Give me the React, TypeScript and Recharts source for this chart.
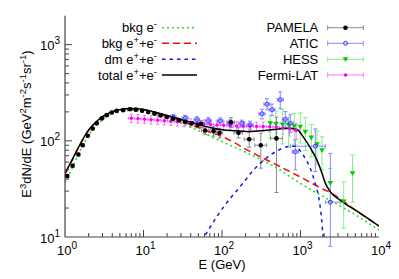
import React from 'react';
import { ComposedChart, Line, Scatter, XAxis, YAxis, ErrorBar } from 'recharts';

// ---------- axes ----------
const xMajorTicks = [1, 10, 100, 1000, 10000];
const yMajorTicks = [10, 100, 1000];
const minorSteps = [2, 3, 4, 5, 6, 7, 8, 9];
const xDomain = [1, 10000];
const yDomain = [10, 2000];

// ---------- model curves ----------
const bkgElE = [1, 1.25, 1.5, 2, 2.5, 3, 4, 5, 7, 10, 15, 20, 30, 50, 100, 200, 500, 1000, 2000, 5000, 10000];
const bkgElF = [37, 53, 74, 114, 144, 165, 191, 202, 208, 202, 186, 171, 152, 128, 98, 76, 52, 36, 26, 17, 11.8];

const bkgAllE = [1, 1.25, 1.5, 2, 2.5, 3, 4, 5, 7, 10, 15, 20, 30, 50, 70, 100, 150, 200, 300, 500, 1000, 2000, 2500, 5000, 10000];
const bkgAllF = [45, 64, 86, 128, 157, 177, 200, 210, 216, 210, 194, 180, 161, 137, 123, 111, 94, 82, 69, 56, 42, 31, 28.5, 19, 13];

const dmE = [55, 86, 127, 163, 198, 241, 307, 400, 526, 673, 850, 1045, 1200, 1334, 1540, 1700, 1843, 1960];
const dmF = [9, 16.3, 25.2, 32, 39, 47.6, 58.2, 70, 80, 87, 88, 74, 62, 51.6, 36, 26.2, 16.3, 9];

const totalE = [1, 1.25, 1.5, 2, 2.5, 3, 4, 5, 7, 10, 15, 20, 30, 50, 70, 100, 150, 200, 300, 500, 700, 900, 1100, 1330, 1620, 1880, 2070, 2400, 3200, 5800, 10000];
const totalF = [46, 65, 87, 130, 158, 178, 201, 211, 217, 212, 196, 184, 167, 148, 138, 130, 127, 125, 127, 132, 135, 131, 108, 85, 63, 46, 36.3, 29.5, 24.2, 17.6, 13];

// ---------- PAMELA ----------
const pamE = [1.07, 1.25, 1.48, 1.68, 1.95, 2.25, 2.54, 2.94, 3.4, 3.94, 4.56, 5.5, 6.7, 8.0, 9.6, 11.5, 13.8, 16.5, 19.8, 23.7, 28.4, 34, 41, 49, 54, 61, 78, 93, 130, 162, 222, 312, 494];
const pamF = [43, 55, 72, 90, 113, 134, 152, 171, 185, 197, 205, 208, 213, 211, 206, 199, 192, 184, 177, 170, 164, 158, 152, 146, 150, 128, 126, 121, 156, 121, 104, 90, 106];
const pamLo = [1.5, 2, 2.5, 3, 3.5, 4, 4.5, 5, 5.5, 6, 6, 6, 6, 6, 6, 6, 6, 6, 6, 6, 6, 6, 7, 8, 12, 12, 14, 14, 18, 14, 18, 38, 77];
const pamHi = [1.5, 2, 2.5, 3, 3.5, 4, 4.5, 5, 5.5, 6, 6, 6, 6, 6, 6, 6, 6, 6, 6, 6, 6, 6, 7, 8, 12, 12, 14, 14, 18, 16, 20, 30, 70];
const pamXLo = [0, 0, 0, 0, 0, 0, 0, 0, 0, 0, 0, 0, 0, 0, 0, 0, 0, 0, 0, 0, 0, 0, 0, 0, 5, 6, 8, 9, 14, 20, 30, 50, 80];
const pamXHi = [0, 0, 0, 0, 0, 0, 0, 0, 0, 0, 0, 0, 0, 0, 0, 0, 0, 0, 0, 0, 0, 0, 0, 0, 5, 6, 8, 9, 14, 20, 35, 59, 95];

// ---------- ATIC ----------
const atE = [24, 34, 48, 67, 95, 127, 179, 228, 323, 374, 433, 552, 640, 741, 859, 1545, 2400];
const atF = [176, 172, 166, 162, 161, 153, 152, 146, 191, 240, 211, 268, 167, 152, 77, 88, 23];
const atLo = [12, 12, 12, 12, 12, 12, 12, 14, 22, 30, 28, 51, 30, 30, 27, 40, 15];
const atHi = [12, 12, 12, 12, 12, 12, 12, 14, 22, 35, 30, 55, 35, 35, 25, 45, 51];
const atXLo = [2, 3, 4, 6, 8, 11, 16, 20, 28, 32, 37, 48, 55, 64, 75, 805, 330];
const atXHi = [2, 3, 4, 6, 8, 11, 16, 20, 30, 35, 40, 52, 60, 70, 80, 525, 820];

// ---------- HESS ----------
const hessE = [412, 487, 591, 705, 833, 994, 1152, 1373, 1622, 1880, 2400, 3550, 4600];
const hessF = [152, 150, 148, 146, 142, 140, 124, 108, 92, 80, 36.5, 23.4, 46];
const hessLo = [45, 45, 55, 60, 50, 45, 45, 40, 35, 30, 13, 11, 23];
const hessHi = [30, 55, 65, 30, 50, 55, 50, 40, 35, 30, 15, 14, 25];

// ---------- Fermi-LAT ----------
const fermiE = [7.0, 8.5, 10.3, 12.5, 15.2, 18.4, 22.3, 27.1, 32.9, 39.9, 48.4, 58.7, 71.2, 86.4, 105, 127, 154, 187, 227, 276, 334, 406, 492, 597, 724, 879];
const fermiF = [172, 170, 168, 166, 164, 162, 160, 158, 156, 154, 152, 150, 148, 146, 145, 144, 143, 142, 142, 141, 141, 140, 139, 137, 134, 128];
const fermiErr = [17, 17, 17, 17, 16, 16, 16, 16, 16, 15, 15, 15, 15, 15, 15, 15, 15, 15, 15, 15, 16, 17, 18, 20, 22, 24];
const fermiEdges = [6.4, 7.7, 9.3, 11.3, 13.7, 16.7, 20.2, 24.5, 29.7, 36.1, 43.8, 53.2, 64.5, 78.2, 94.9, 115, 140, 170, 206, 250, 303, 368, 446, 541, 657, 797, 967];

// ---------- build tables ----------
const curve = (E: number[], F: number[]) => E.map((e, i) => ({ E: e, F: F[i] }));
const bkgElData = curve(bkgElE, bkgElF);
const bkgAllData = curve(bkgAllE, bkgAllF);
const dmData = curve(dmE, dmF);
const totalData = curve(totalE, totalF);

const pamData = pamE.map((e, i) => ({
  E: e, F: pamF[i], ey: [pamLo[i], pamHi[i]],
  ex: pamXLo[i] > 0 ? [pamXLo[i], pamXHi[i]] : undefined,
}));
const atData = atE.map((e, i) => ({ E: e, F: atF[i], ey: [atLo[i], atHi[i]], ex: [atXLo[i], atXHi[i]] }));
const hessData = hessE.map((e, i) => ({ E: e, F: hessF[i], ey: [hessLo[i], hessHi[i]] }));
const fermiData = fermiE.map((e, i) => ({
  E: e, F: fermiF[i], ey: [fermiErr[i], fermiErr[i]],
  ex: [e - fermiEdges[i], fermiEdges[i + 1] - e],
}));

const xTicks = xMajorTicks.flatMap((m) => (m < xDomain[1] ? [m, ...minorSteps.map((s) => m * s)] : [m]));
const yTicks = yMajorTicks.flatMap((m) => [m, ...minorSteps.map((s) => m * s)]).filter((v) => v <= yDomain[1]).concat([yDomain[1]]);

// ---------- styling ----------
const W = 391;
const H = 271;
const FRAME = '#444';
const FONT = '"Liberation Sans", Arial, Helvetica, sans-serif';
const C = {
  green: '#22dd22', red: '#ee1111', blue: '#1515ee', black: '#000',
  pam: '#000', pamBar: '#8a8a8a',
  atic: '#3a3aff', aticBar: '#8888ff',
  hess: '#00cc00', hessBar: '#88ee88',
  fermi: '#ff00ff', fermiBar: '#ff70ff',
};

const isMajor = (v: number) => {
  const l = Math.log10(v);
  return Math.abs(l - Math.round(l)) < 1e-6;
};

const Pow = ({ x, y, v, anchor }: any) => (
  <text x={x} y={y} textAnchor={anchor} fontSize={13} fontFamily={FONT} fill="#000">
    10<tspan dy={-6} fontSize={10}>{Math.round(Math.log10(v))}</tspan>
  </text>
);

const BottomTick = (p: any) => {
  const v = p.payload.value;
  const major = isMajor(v);
  const inner = v > xDomain[0] && v < xDomain[1];
  return (
    <g>
      {inner && <line x1={p.x} x2={p.x} y1={p.y} y2={p.y - (major ? 7 : 4)} stroke={FRAME} />}
      {major && <Pow x={p.x + 2} y={p.y + 18} v={v} anchor="middle" />}
    </g>
  );
};
const TopTick = (p: any) => {
  const v = p.payload.value;
  if (v <= xDomain[0] || v >= xDomain[1]) return <g />;
  return <line x1={p.x} x2={p.x} y1={p.y} y2={p.y + (isMajor(v) ? 7 : 4)} stroke={FRAME} />;
};
const LeftTick = (p: any) => {
  const v = p.payload.value;
  const major = isMajor(v);
  const inner = v > yDomain[0] && v < yDomain[1];
  return (
    <g>
      {inner && <line x1={p.x} x2={p.x + (major ? 7 : 4)} y1={p.y} y2={p.y} stroke={FRAME} />}
      {major && <Pow x={p.x - 5} y={p.y + 5.5} v={v} anchor="end" />}
    </g>
  );
};
const RightTick = (p: any) => {
  const v = p.payload.value;
  if (v <= yDomain[0] || v >= yDomain[1]) return <g />;
  return <line x1={p.x} x2={p.x - (isMajor(v) ? 7 : 4)} y1={p.y} y2={p.y} stroke={FRAME} />;
};

const dotShape = (r: number, fill: string) => (p: any) => <circle cx={p.cx} cy={p.cy} r={r} fill={fill} />;
const ringShape = (p: any) => <circle cx={p.cx} cy={p.cy} r={2} fill="none" stroke={C.atic} strokeWidth={1} />;
const triShape = (p: any) => (
  <polygon points={`${p.cx - 2.8},${p.cy - 2} ${p.cx + 2.8},${p.cy - 2} ${p.cx},${p.cy + 2.8}`} fill={C.hess} />
);

const Sup = ({ children }: any) => <tspan dy={-5} fontSize={9.5}>{children}</tspan>;
const Base = ({ children }: any) => <tspan dy={5}>{children}</tspan>;

const rows = [19.7, 35.3, 51.3, 67];

export default function App() {
  const lineLegend = [
    { label: <>bkg e<Sup>-</Sup></>, color: C.green, dash: '2 3' },
    { label: <>bkg e<Sup>+</Sup><Base>+e</Base><Sup>-</Sup></>, color: C.red, dash: '7 4' },
    { label: <>dm e<Sup>+</Sup><Base>+e</Base><Sup>-</Sup></>, color: C.blue, dash: '3.5 4' },
    { label: <>total e<Sup>+</Sup><Base>+e</Base><Sup>-</Sup></>, color: C.black, dash: undefined },
  ];
  const dataLegend = [
    { label: 'PAMELA', bar: C.pamBar, mark: (x: number, y: number) => <circle cx={x} cy={y} r={2.3} fill={C.pam} /> },
    { label: 'ATIC', bar: C.aticBar, mark: (x: number, y: number) => <circle cx={x} cy={y} r={2} fill="none" stroke={C.atic} /> },
    { label: 'HESS', bar: C.hessBar, mark: (x: number, y: number) => <polygon points={`${x - 2.8},${y - 2} ${x + 2.8},${y - 2} ${x},${y + 2.8}`} fill={C.hess} /> },
    { label: 'Fermi-LAT', bar: C.fermiBar, mark: (x: number, y: number) => <circle cx={x} cy={y} r={1.8} fill={C.fermi} /> },
  ];

  return (
    <div style={{ position: 'relative', width: W, height: H }}>
      <ComposedChart width={W} height={H} margin={{ top: 7.7, right: 20, bottom: 0, left: 0 }}>
        <XAxis xAxisId={0} dataKey="E" type="number" scale="log" domain={xDomain} allowDataOverflow
          ticks={xTicks} interval={0} tick={<BottomTick />} tickLine={false} tickSize={0} tickMargin={0}
          height={42} axisLine={{ stroke: FRAME, strokeWidth: 1.2 }} />
        <XAxis xAxisId="top" orientation="top" dataKey="E" type="number" scale="log" domain={xDomain} allowDataOverflow
          ticks={xTicks} interval={0} tick={<TopTick />} tickLine={false} tickSize={0} tickMargin={0}
          height={0} axisLine={{ stroke: FRAME, strokeWidth: 1.2 }} />
        <YAxis yAxisId={0} type="number" scale="log" domain={yDomain} allowDataOverflow
          ticks={yTicks} interval={0} tick={<LeftTick />} tickLine={false} tickSize={0} tickMargin={0}
          width={57} axisLine={{ stroke: FRAME, strokeWidth: 1.2 }} />
        <YAxis yAxisId="right" orientation="right" type="number" scale="log" domain={yDomain} allowDataOverflow
          ticks={yTicks} interval={0} tick={<RightTick />} tickLine={false} tickSize={0} tickMargin={0}
          width={0} axisLine={{ stroke: FRAME, strokeWidth: 1.2 }} />

        <Scatter data={fermiData} dataKey="F" shape={dotShape(1.7, C.fermi)} isAnimationActive={false}>
          <ErrorBar dataKey="ey" direction="y" width={1.5} stroke={C.fermiBar} strokeWidth={1} isAnimationActive={false} />
          <ErrorBar dataKey="ex" direction="x" width={1.5} stroke={C.fermiBar} strokeWidth={1} isAnimationActive={false} />
        </Scatter>
        <Scatter data={hessData} dataKey="F" shape={triShape} isAnimationActive={false}>
          <ErrorBar dataKey="ey" direction="y" width={2.5} stroke={C.hessBar} strokeWidth={1} isAnimationActive={false} />
        </Scatter>
        <Scatter data={atData} dataKey="F" shape={ringShape} isAnimationActive={false}>
          <ErrorBar dataKey="ey" direction="y" width={2} stroke={C.aticBar} strokeWidth={1} isAnimationActive={false} />
          <ErrorBar dataKey="ex" direction="x" width={2} stroke={C.aticBar} strokeWidth={1} isAnimationActive={false} />
        </Scatter>
        <Scatter data={pamData} dataKey="F" shape={dotShape(2.3, C.pam)} isAnimationActive={false}>
          <ErrorBar dataKey="ey" direction="y" width={2} stroke={C.pamBar} strokeWidth={1} isAnimationActive={false} />
          <ErrorBar dataKey="ex" direction="x" width={2} stroke={C.pamBar} strokeWidth={1} isAnimationActive={false} />
        </Scatter>

        <Line data={bkgElData} dataKey="F" type="monotone" stroke={C.green} strokeWidth={1.5} strokeDasharray="2 3" dot={false} activeDot={false} isAnimationActive={false} />
        <Line data={bkgAllData} dataKey="F" type="monotone" stroke={C.red} strokeWidth={1.5} strokeDasharray="7 4" dot={false} activeDot={false} isAnimationActive={false} />
        <Line data={dmData} dataKey="F" type="monotone" stroke={C.blue} strokeWidth={1.5} strokeDasharray="3.5 4" dot={false} activeDot={false} isAnimationActive={false} />
        <Line data={totalData} dataKey="F" type="monotone" stroke={C.black} strokeWidth={1.5} dot={false} activeDot={false} isAnimationActive={false} />
      </ComposedChart>

      <svg width={W} height={H} style={{ position: 'absolute', left: 0, top: 0, pointerEvents: 'none' }}
        fontFamily={FONT}>
        {lineLegend.map((l, i) => (
          <g key={i}>
            <text x={149} y={rows[i] + 4.5} textAnchor="end" fontSize={13} fill="#000">{l.label}</text>
            <line x1={154} x2={189} y1={rows[i]} y2={rows[i]} stroke={l.color} strokeWidth={1.5} strokeDasharray={l.dash} />
          </g>
        ))}
        {dataLegend.map((l, i) => (
          <g key={i}>
            <text x={310.3} y={rows[i] + 4.5} textAnchor="end" fontSize={13} fill="#000">{l.label}</text>
            <line x1={319.7} x2={355.3} y1={rows[i]} y2={rows[i]} stroke={l.bar} strokeWidth={1} />
            <line x1={319.7} x2={319.7} y1={rows[i] - 2.5} y2={rows[i] + 2.5} stroke={l.bar} strokeWidth={1} />
            <line x1={355.3} x2={355.3} y1={rows[i] - 2.5} y2={rows[i] + 2.5} stroke={l.bar} strokeWidth={1} />
            {l.mark(337.5, rows[i])}
          </g>
        ))}
        <text x={214} y={260.5} textAnchor="middle" fontSize={13} fill="#000">E (GeV)</text>
        <text x={22.5} y={116} transform="rotate(-90 22.5 116)" textAnchor="middle" fontSize={13} fill="#000">
          E<Sup>3</Sup><Base>dN/dE (GeV</Base><Sup>2</Sup><Base>m</Base><Sup>-2</Sup><Base>s</Base><Sup>-1</Sup><Base>sr</Base><Sup>-1</Sup><Base>)</Base>
        </text>
      </svg>
    </div>
  );
}
